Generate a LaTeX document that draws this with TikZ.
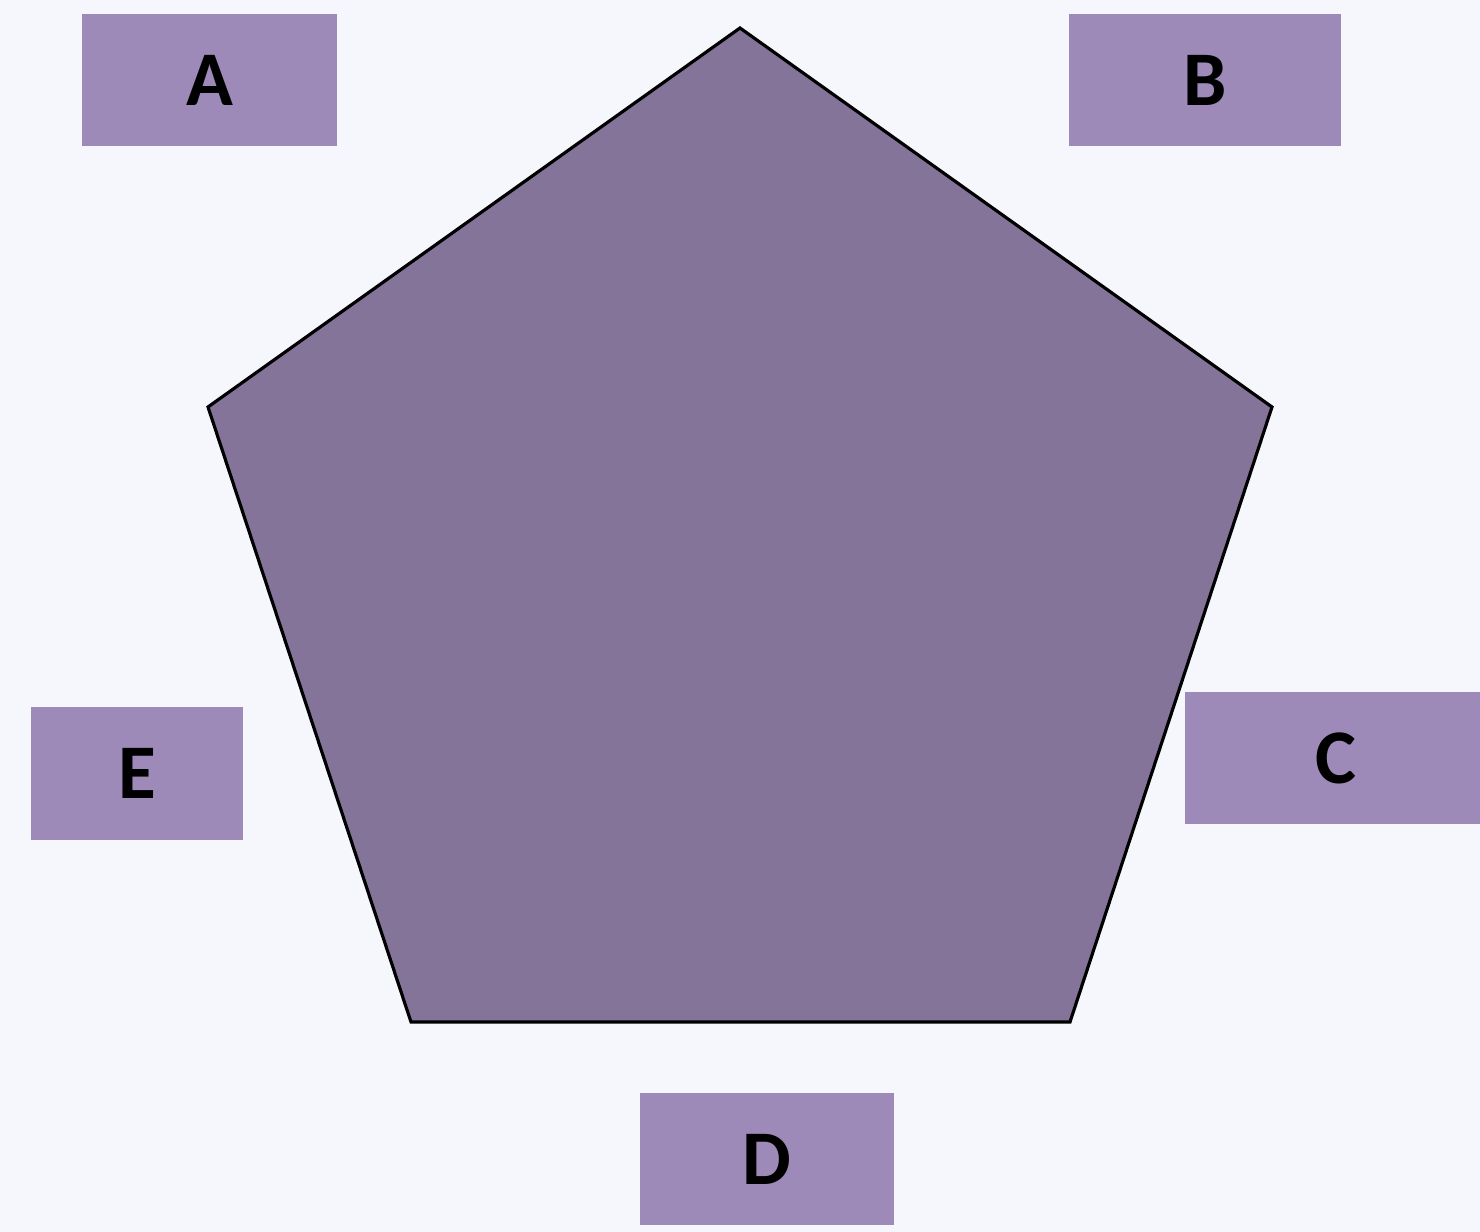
\documentclass[tikz,border=0pt]{standalone}
\usepackage{fontspec}
\setmainfont{Carlito}
\usetikzlibrary{positioning}
\definecolor{pagebg}{HTML}{F5F7FC}
\definecolor{boxfill}{HTML}{9D8AB8}
\definecolor{pentafill}{HTML}{857499}

\begin{document}
\begin{tikzpicture}[
  % Node styles
  label box/.style={
    rectangle,
    fill=boxfill,
    draw=none,
    minimum height=1.32cm,
    inner sep=0pt,
    font=\fontsize{22}{26}\selectfont\bfseries,
    text=black,
  },
  penta/.style={
    fill=pentafill,
    draw=black,
    line width=0.9pt,
    line join=miter,
  },
]

% ── Background ──
\fill[pagebg] (0,0) rectangle (14.8,12.32);
\useasboundingbox (0,0) rectangle (14.8,12.32);

% ── Pentagon corners ──
\coordinate (top) at (7.40,12.04);
\coordinate (right) at (12.72,8.25);
\coordinate (lowright) at (10.70,2.10);
\coordinate (lowleft) at (4.11,2.10);
\coordinate (left) at (2.08,8.25);

\draw[penta] (top) -- (right) -- (lowright) -- (lowleft) -- (left) -- cycle;

% ── Label boxes ──
\node[label box, minimum width=2.55cm] (boxA) at (2.095,11.52) {A};
\node[label box, minimum width=2.72cm] (boxB) at (12.05,11.52) {B};
\node[label box, minimum width=2.95cm, text width=2.95cm, align=center] (boxC) at (13.325,4.74) {\hspace{0.06cm}C};
\node[label box, minimum width=2.54cm] (boxD) at (7.67,0.725) {D};
\node[label box, minimum width=2.12cm, minimum height=1.33cm] (boxE) at (1.37,4.585) {E};

\end{tikzpicture}
\end{document}
